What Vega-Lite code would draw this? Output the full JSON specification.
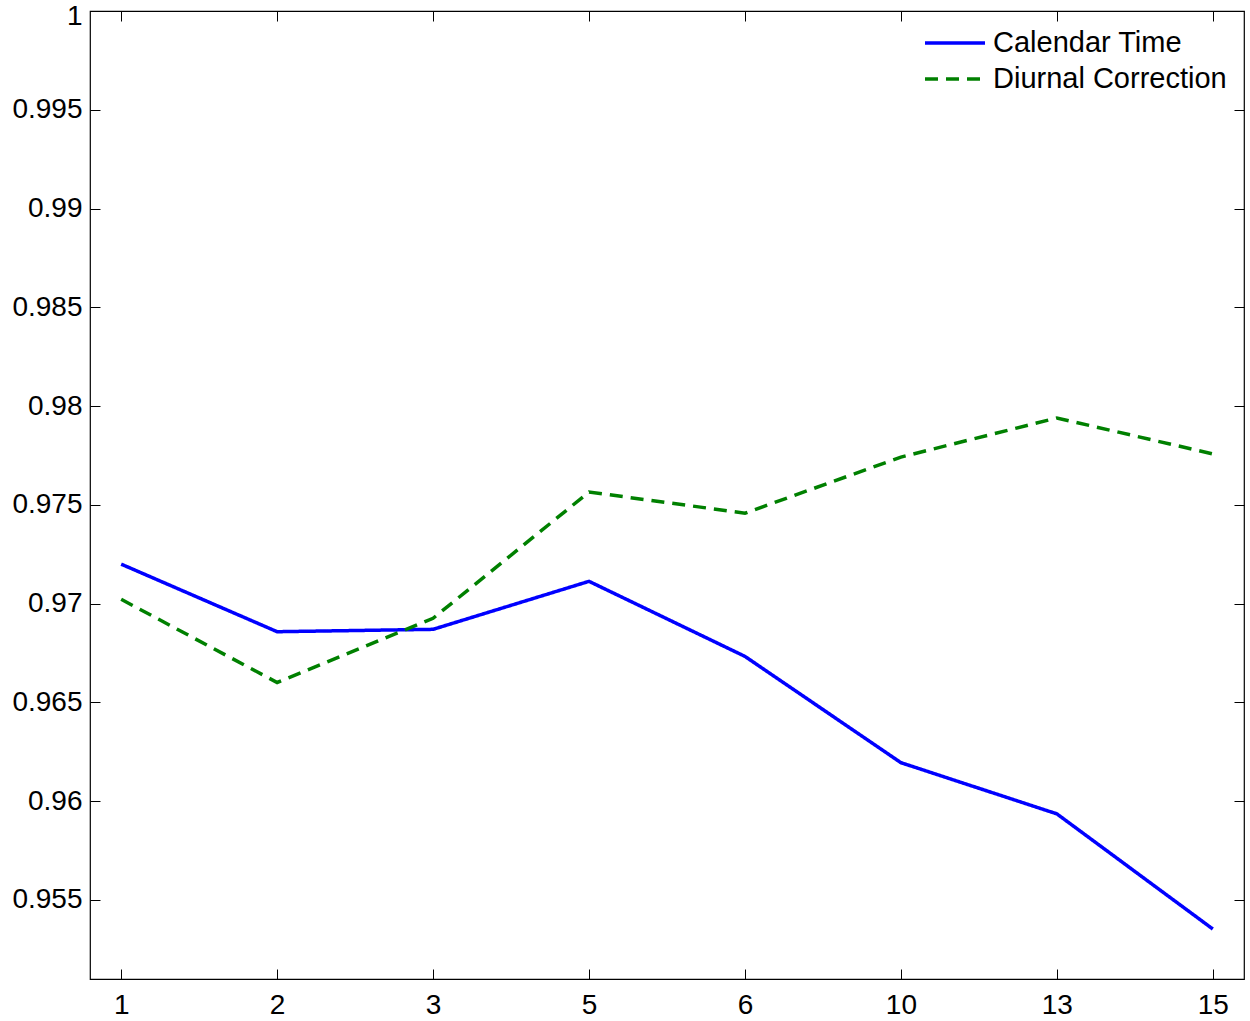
{
  "$schema": "https://vega.github.io/schema/vega-lite/v6.json",
  "autosize": "none",
  "width": 1154,
  "height": 968,
  "padding": {"left": 90, "top": 11, "right": 6, "bottom": 42},
  "background": "white",
  "config": {
    "font": "Liberation Sans",
    "view": {"stroke": "black", "strokeWidth": 1.2},
    "axis": {
      "labelFont": "Liberation Sans",
      "labelFontSize": 28,
      "labelColor": "black",
      "tickColor": "black",
      "tickSize": -10,
      "tickWidth": 1,
      "domain": false,
      "grid": false,
      "title": null
    },
    "legend": {
      "title": null, "orient": "none", "legendX": 833, "legendY": 18,
      "symbolType": "M-1,0H1", "symbolSize": 3600, "symbolStrokeWidth": 3.5,
      "labelFontSize": 29, "labelFont": "Liberation Sans", "labelColor": "black",
      "labelOffset": 6, "rowPadding": 7, "clipHeight": 28, "padding": 0, "labelLimit": 0
    }
  },
  "data": {
    "values": [
      {"t": "1", "series": "Calendar Time", "v": 0.97200},
      {"t": "2", "series": "Calendar Time", "v": 0.96858},
      {"t": "3", "series": "Calendar Time", "v": 0.96870},
      {"t": "5", "series": "Calendar Time", "v": 0.97113},
      {"t": "6", "series": "Calendar Time", "v": 0.96733},
      {"t": "10", "series": "Calendar Time", "v": 0.96195},
      {"t": "13", "series": "Calendar Time", "v": 0.95936},
      {"t": "15", "series": "Calendar Time", "v": 0.95353},
      {"t": "1", "series": "Diurnal Correction", "v": 0.97022},
      {"t": "2", "series": "Diurnal Correction", "v": 0.96601},
      {"t": "3", "series": "Diurnal Correction", "v": 0.96926},
      {"t": "5", "series": "Diurnal Correction", "v": 0.97565},
      {"t": "6", "series": "Diurnal Correction", "v": 0.97458},
      {"t": "10", "series": "Diurnal Correction", "v": 0.97742},
      {"t": "13", "series": "Diurnal Correction", "v": 0.97940},
      {"t": "15", "series": "Diurnal Correction", "v": 0.97758}
    ]
  },
  "layer": [
    {
      "mark": {"type": "line", "strokeWidth": 3.5},
      "encoding": {
        "x": {
          "field": "t", "type": "ordinal",
          "scale": {"type": "point", "padding": 0.2, "domain": ["1","2","3","5","6","10","13","15"]},
          "axis": {"orient": "bottom", "labelAngle": 0, "labelPadding": 22}
        },
        "y": {
          "field": "v", "type": "quantitative",
          "scale": {"domain": [0.951, 1], "nice": false, "zero": false},
          "axis": {
            "orient": "left",
            "values": [0.955, 0.96, 0.965, 0.97, 0.975, 0.98, 0.985, 0.99, 0.995, 1],
            "format": "~g", "labelPadding": 18,
            "labelOffset": {"condition": {"test": "datum.value == 1", "value": 5}, "value": 0}
          }
        },
        "color": {
          "field": "series", "type": "nominal",
          "scale": {"domain": ["Calendar Time", "Diurnal Correction"], "range": ["#0000ff", "#008000"]},
          "legend": {"title": null}
        },
        "strokeDash": {
          "field": "series", "type": "nominal",
          "scale": {"domain": ["Calendar Time", "Diurnal Correction"], "range": [[1, 0], [13, 8]]},
          "legend": {"title": null}
        }
      }
    },
    {
      "mark": {"type": "line", "opacity": 0},
      "encoding": {
        "x": {
          "field": "t", "type": "ordinal",
          "scale": {"type": "point", "padding": 0.2, "domain": ["1","2","3","5","6","10","13","15"]},
          "axis": {"orient": "top", "labels": false}
        },
        "y": {
          "field": "v", "type": "quantitative",
          "scale": {"domain": [0.951, 1], "nice": false, "zero": false},
          "axis": {"orient": "right", "labels": false, "values": [0.955, 0.96, 0.965, 0.97, 0.975, 0.98, 0.985, 0.99, 0.995, 1]}
        },
        "detail": {"field": "series"}
      }
    }
  ],
  "resolve": {"scale": {"x": "independent", "y": "independent"}, "axis": {"x": "independent", "y": "independent"}}
}
